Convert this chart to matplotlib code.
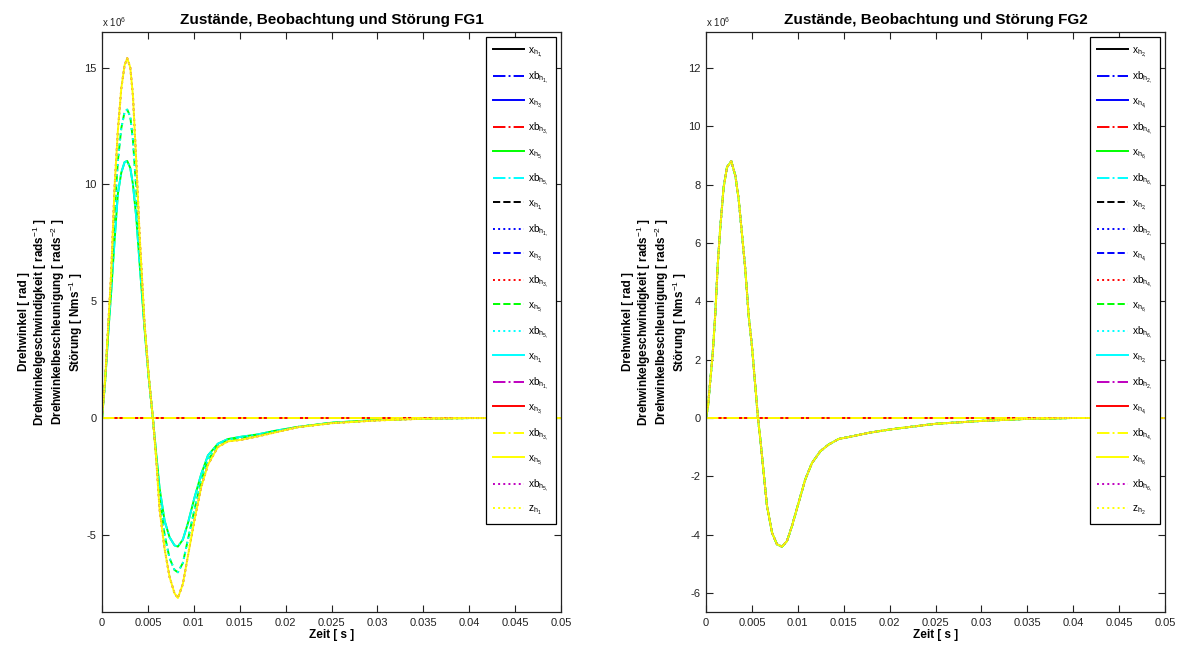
import numpy as np
import matplotlib
matplotlib.use("Agg")
import matplotlib.pyplot as plt

plt.rcParams['font.family'] = ['Liberation Sans', 'DejaVu Sans']
plt.rcParams['mathtext.fontset'] = 'custom'
plt.rcParams['mathtext.rm'] = 'Liberation Sans'
plt.rcParams['mathtext.it'] = 'Liberation Sans'
plt.rcParams['mathtext.bf'] = 'Liberation Sans:bold'

# ---------------- data (values in units of 1e6) ----------------
fg1_t = [0, 0.00035, 0.00064, 0.001, 0.00137, 0.00173, 0.0021, 0.00246, 0.00275,
         0.00308, 0.00337, 0.00373, 0.0041, 0.00464, 0.00507, 0.00554, 0.0059,
         0.00627, 0.00682, 0.00736, 0.0079, 0.00827, 0.00881, 0.00936, 0.01008,
         0.01081, 0.01154, 0.01262, 0.01371, 0.01517, 0.01698, 0.0188, 0.02134,
         0.025, 0.03, 0.035, 0.04, 0.045, 0.05]
fg1_acc_g1 = [0, 1.6, 3.4, 5.4, 7.6, 9.6, 10.5, 10.95, 11.0, 10.7, 10.0, 8.6, 6.6,
              3.8, 1.8, 0, -1.5, -3.0, -4.4, -5.1, -5.45, -5.5, -5.2, -4.5, -3.4,
              -2.4, -1.6, -1.1, -0.9, -0.8, -0.7, -0.55, -0.38, -0.2, -0.08, -0.02,
              0, 0, 0]
fg1_acc_g2 = [0, 1.65, 3.6, 5.8, 8.8, 11.0, 12.4, 13.1, 13.2, 12.9, 11.9, 9.8, 7.2,
              3.9, 1.85, 0, -1.6, -3.4, -5.0, -6.0, -6.5, -6.6, -6.2, -5.2, -3.9,
              -2.7, -1.8, -1.2, -0.95, -0.85, -0.74, -0.58, -0.38, -0.21, -0.09,
              -0.02, 0, 0, 0]
fg1_acc_g3 = [0, 1.7, 3.7, 6.2, 9.9, 12.3, 14.1, 15.1, 15.4, 15.0, 13.8, 11.0, 7.8,
              4.0, 1.9, 0, -1.7, -3.9, -5.6, -6.8, -7.5, -7.7, -7.1, -5.9, -4.35,
              -2.95, -2.0, -1.24, -1.0, -0.93, -0.78, -0.62, -0.39, -0.22, -0.1,
              -0.03, 0, 0, 0]
fg1_z = fg1_acc_g3

fg2_t = [0, 0.00022, 0.00047, 0.00073, 0.00102, 0.00127, 0.00156, 0.00192, 0.00229,
         0.00276, 0.0032, 0.00356, 0.00392, 0.00428, 0.00465, 0.00501, 0.00537,
         0.00566, 0.00592, 0.00628, 0.00664, 0.00719, 0.00773, 0.00828, 0.00882,
         0.00937, 0.01009, 0.01082, 0.01155, 0.01245, 0.01336, 0.01445, 0.0159,
         0.01772, 0.0199, 0.02135, 0.025, 0.03, 0.035, 0.04, 0.045, 0.05]
fg2_acc = [0, 0.4, 1.3, 2.2, 3.6, 5.2, 6.55, 7.9, 8.6, 8.8, 8.3, 7.5, 6.3, 5.1, 3.5,
           2.45, 1.1, 0, -0.74, -1.88, -3.0, -3.93, -4.33, -4.41, -4.22, -3.7, -2.9,
           -2.1, -1.54, -1.14, -0.91, -0.72, -0.63, -0.51, -0.4, -0.34, -0.2, -0.1,
           -0.03, 0, 0, 0]
fg2_z = fg2_acc

x_ticks = [0, 0.005, 0.01, 0.015, 0.02, 0.025, 0.03, 0.035, 0.04, 0.045, 0.05]
x_tick_labels = ['0', '0.005', '0.01', '0.015', '0.02', '0.025', '0.03', '0.035',
                 '0.04', '0.045', '0.05']
fg1_y_ticks = [-5, 0, 5, 10, 15]
fg1_y_tick_labels = ['-5', '0', '5', '10', '15']
fg2_y_ticks = [-6, -4, -2, 0, 2, 4, 6, 8, 10, 12]
fg2_y_tick_labels = ['-6', '-4', '-2', '0', '2', '4', '6', '8', '10', '12']

titles = ['Zustände, Beobachtung und Störung FG1', 'Zustände, Beobachtung und Störung FG2']
xlabel = 'Zeit [ s ]'
ylabel = ('Drehwinkel [ rad ]\n'
          'Drehwinkelgeschwindigkeit [ rads$^{-1}$ ]\n'
          'Drehwinkelbeschleunigung [ rads$^{-2}$ ]\n'
          'Störung [ Nms$^{-1}$ ]')

# styles per group: (angle, angle_obs, vel, vel_obs, acc, acc_obs)
group_styles = [
    [('k', '-'), ('b', '-.'), ('b', '-'), ('r', '-.'), ('#00ff00', '-'), ('#00ffff', '-.')],
    [('k', '--'), ('b', ':'), ('b', '--'), ('r', ':'), ('#00ff00', '--'), ('#00ffff', ':')],
    [('#00ffff', '-'), ('m', '-.'), ('r', '-'), ('#ffff00', '-.'), ('#ffff00', '-'), ('m', ':')],
]
z_style = ('#ffff00', ':')


def draw(ax, t, acc_groups, z, idx, title, yticks, yticklabels, ylim):
    t = np.asarray(t)
    zero = np.zeros_like(t)
    handles = []
    labels = []
    a, b, c = idx
    names = ['x_{h_{%d,}}' % a, 'xb_{h_{%d,}}' % a,
             'x_{h_{%d,}}' % b, 'xb_{h_{%d,}}' % b,
             'x_{h_{%d,}}' % c, 'xb_{h_{%d,}}' % c]
    for g, styles in enumerate(group_styles):
        series = [zero, zero, zero, zero, np.asarray(acc_groups[g]), np.asarray(acc_groups[g])]
        for k, ((col, ls), y) in enumerate(zip(styles, series)):
            h, = ax.plot(t, y, color=col, ls=ls, lw=1.4)
            handles.append(h)
            labels.append(r'$\mathregular{%s}$' % names[k])
    h, = ax.plot(t, np.asarray(z), color=z_style[0], ls=z_style[1], lw=1.4)
    handles.append(h)
    labels.append(r'$\mathregular{z_{h_{%d}}}$' % (idx[0]))

    ax.set_xlim(0, 0.05)
    ax.set_ylim(*ylim)
    ax.set_xticks(x_ticks)
    ax.set_xticklabels(x_tick_labels)
    ax.set_yticks(yticks)
    ax.set_yticklabels(yticklabels)
    ax.tick_params(direction='in', length=5, width=0.8, top=True, right=True,
                   labelsize=8, colors='#222222', pad=4)
    for s in ax.spines.values():
        s.set_linewidth(0.9)
        s.set_color('#222222')
    ax.set_title(title, fontsize=11, fontweight='bold', pad=6)
    ax.set_xlabel(xlabel, fontsize=8.5, fontweight='bold', labelpad=1)
    ax.set_ylabel(ylabel, fontsize=8.5, fontweight='bold', linespacing=1.0)
    ax.yaxis.set_label_coords(-0.037, 0.5)
    ax.text(0.0, 1.006, r'x 10$^{6}$', transform=ax.transAxes, fontsize=7,
            ha='left', va='bottom', color='#222222')
    leg = ax.legend(handles, labels, loc='upper right',
                    bbox_to_anchor=(0.989, 0.991), fontsize=7.3,
                    handlelength=3.0, handletextpad=0.4, labelspacing=1.07,
                    borderpad=0.75, borderaxespad=0, fancybox=False,
                    framealpha=1, edgecolor='black')
    leg.get_frame().set_linewidth(0.9)


fig = plt.figure(figsize=(11.85, 6.47), dpi=100)
ax1 = fig.add_axes([102 / 1185, 1 - 612 / 647, 459 / 1185, 580 / 647])
ax2 = fig.add_axes([706 / 1185, 1 - 612 / 647, 459 / 1185, 580 / 647])

draw(ax1, fg1_t, [fg1_acc_g1, fg1_acc_g2, fg1_acc_g3], fg1_z, (1, 3, 5), titles[0],
     fg1_y_ticks, fg1_y_tick_labels, (-8.30, 16.52))
draw(ax2, fg2_t, [fg2_acc, fg2_acc, fg2_acc], fg2_z, (2, 4, 6), titles[1],
     fg2_y_ticks, fg2_y_tick_labels, (-6.65, 13.23))

fig.savefig('out.png', dpi=100)
